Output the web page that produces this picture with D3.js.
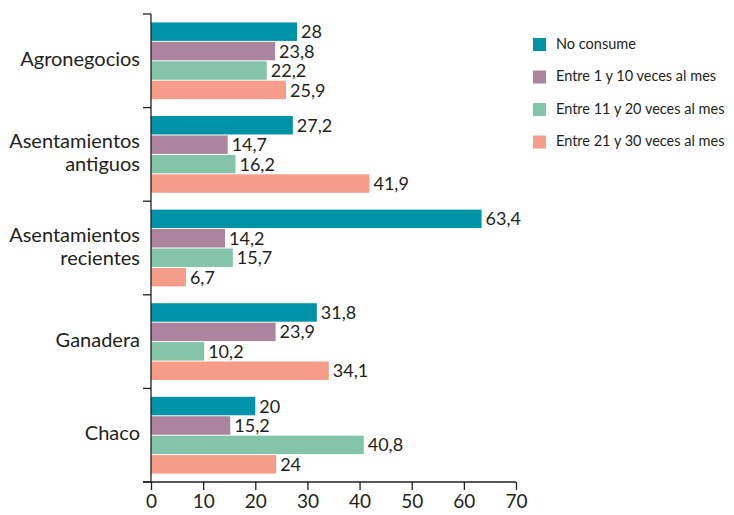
<!DOCTYPE html>
<html>
<head>
<meta charset="utf-8">
<script src="https://cdn.jsdelivr.net/npm/d3@7"></script>
<style>
body { margin: 0; background: #fff; }
text { font-family: Lato, "Open Sans", sans-serif; fill: #231f20; }
</style>
</head>
<body>
<div id="chart"></div>
<script>
// categories and series
const categories = ["Agronegocios", "Asentamientos antiguos", "Asentamientos recientes", "Ganadera", "Chaco"];
const catLines = [["Agronegocios"], ["Asentamientos", "antiguos"], ["Asentamientos", "recientes"], ["Ganadera"], ["Chaco"]];
const series = ["No consume", "Entre 1 y 10 veces al mes", "Entre 11 y 20 veces al mes", "Entre 21 y 30 veces al mes"];
const noConsume = [28, 27.2, 63.4, 31.8, 20];
const entre1y10 = [23.8, 14.7, 14.2, 23.9, 15.2];
const entre11y20 = [22.2, 16.2, 15.7, 10.2, 40.8];
const entre21y30 = [25.9, 41.9, 6.7, 34.1, 24];
const xTicks = [0, 10, 20, 30, 40, 50, 60, 70];
const colors = ["#0092a6", "#ad849e", "#83c4aa", "#f59d88"];

const values = [noConsume, entre1y10, entre11y20, entre21y30];

const W = 734, H = 515;
const margin = {top: 14, left: 151, right: 218, bottom: 33};
const width = W - margin.left - margin.right;
const height = H - margin.top - margin.bottom;

const svg = d3.select("#chart").append("svg")
    .attr("width", W)
    .attr("height", H);

const g = svg.append("g")
    .attr("transform", `translate(${margin.left},${margin.top})`);

const x = d3.scaleLinear().domain([0, 70]).range([0, width]);
const y = d3.scaleBand().domain(categories).range([0, height]).paddingInner(0.18).paddingOuter(0.09);
const ySub = d3.scaleBand().domain(series).range([0, y.bandwidth()]).paddingInner(0.05);

const fmt = v => String(v).replace(".", ",");

// bars
const groups = g.selectAll(".cat")
    .data(categories)
    .enter().append("g")
    .attr("transform", d => `translate(0,${y(d)})`);

groups.each(function(c, i) {
    const sel = d3.select(this);
    series.forEach((s, j) => {
        const v = values[j][i];
        sel.append("rect")
            .attr("x", x(0))
            .attr("y", ySub(s))
            .attr("width", x(v) - x(0))
            .attr("height", ySub.bandwidth())
            .attr("fill", colors[j]);
        sel.append("text")
            .attr("x", x(v) + 4)
            .attr("y", ySub(s) + ySub.bandwidth() / 2 + 2)
            .attr("dominant-baseline", "middle")
            .attr("font-size", 18)
            .text(fmt(v));
    });
});

// x axis
const xAxis = g.append("g")
    .attr("transform", `translate(0,${height})`)
    .call(d3.axisBottom(x).tickValues(xTicks).tickSize(8).tickSizeOuter(0));
xAxis.select(".domain").remove();
xAxis.append("line")
    .attr("x1", -8).attr("x2", width)
    .attr("stroke", "#231f20").attr("stroke-width", 1.3);
xAxis.selectAll(".tick line").attr("stroke", "#231f20").attr("stroke-width", 1.3);
xAxis.selectAll(".tick text")
    .attr("font-size", 19)
    .attr("dy", "0.8em")
    .style("font-family", "Lato, sans-serif")
    .attr("fill", "#231f20");

// y axis: line with ticks at band boundaries
const yAxis = g.append("g");
yAxis.append("line")
    .attr("x1", 0).attr("x2", 0).attr("y1", 0).attr("y2", height)
    .attr("stroke", "#231f20").attr("stroke-width", 1.3);
const bounds = d3.range(categories.length + 1).map(i => i * height / categories.length);
yAxis.selectAll(".yt")
    .data(bounds)
    .enter().append("line")
    .attr("x1", -8).attr("x2", 0)
    .attr("y1", d => d).attr("y2", d => d)
    .attr("stroke", "#231f20").attr("stroke-width", 1.3);

// category labels
categories.forEach((c, i) => {
    const lines = catLines[i];
    const cy = y(c) + y.bandwidth() / 2;
    const t = g.append("text")
        .attr("text-anchor", "end")
        .attr("font-size", 20);
    lines.forEach((l, k) => {
        t.append("tspan")
            .attr("x", -11)
            .attr("y", cy + (k - (lines.length - 1) / 2) * 23)
            .attr("dominant-baseline", "middle")
            .text(l);
    });
});

// legend
const legend = svg.append("g").attr("transform", "translate(533,38)");
series.forEach((s, j) => {
    const row = legend.append("g").attr("transform", `translate(0,${j * 32.5})`);
    row.append("rect").attr("width", 13).attr("height", 13).attr("fill", colors[j]);
    row.append("text")
        .attr("x", 23).attr("y", 7)
        .attr("dominant-baseline", "middle")
        .attr("font-size", 14.5)
        .text(s);
});
</script>
</body>
</html>
